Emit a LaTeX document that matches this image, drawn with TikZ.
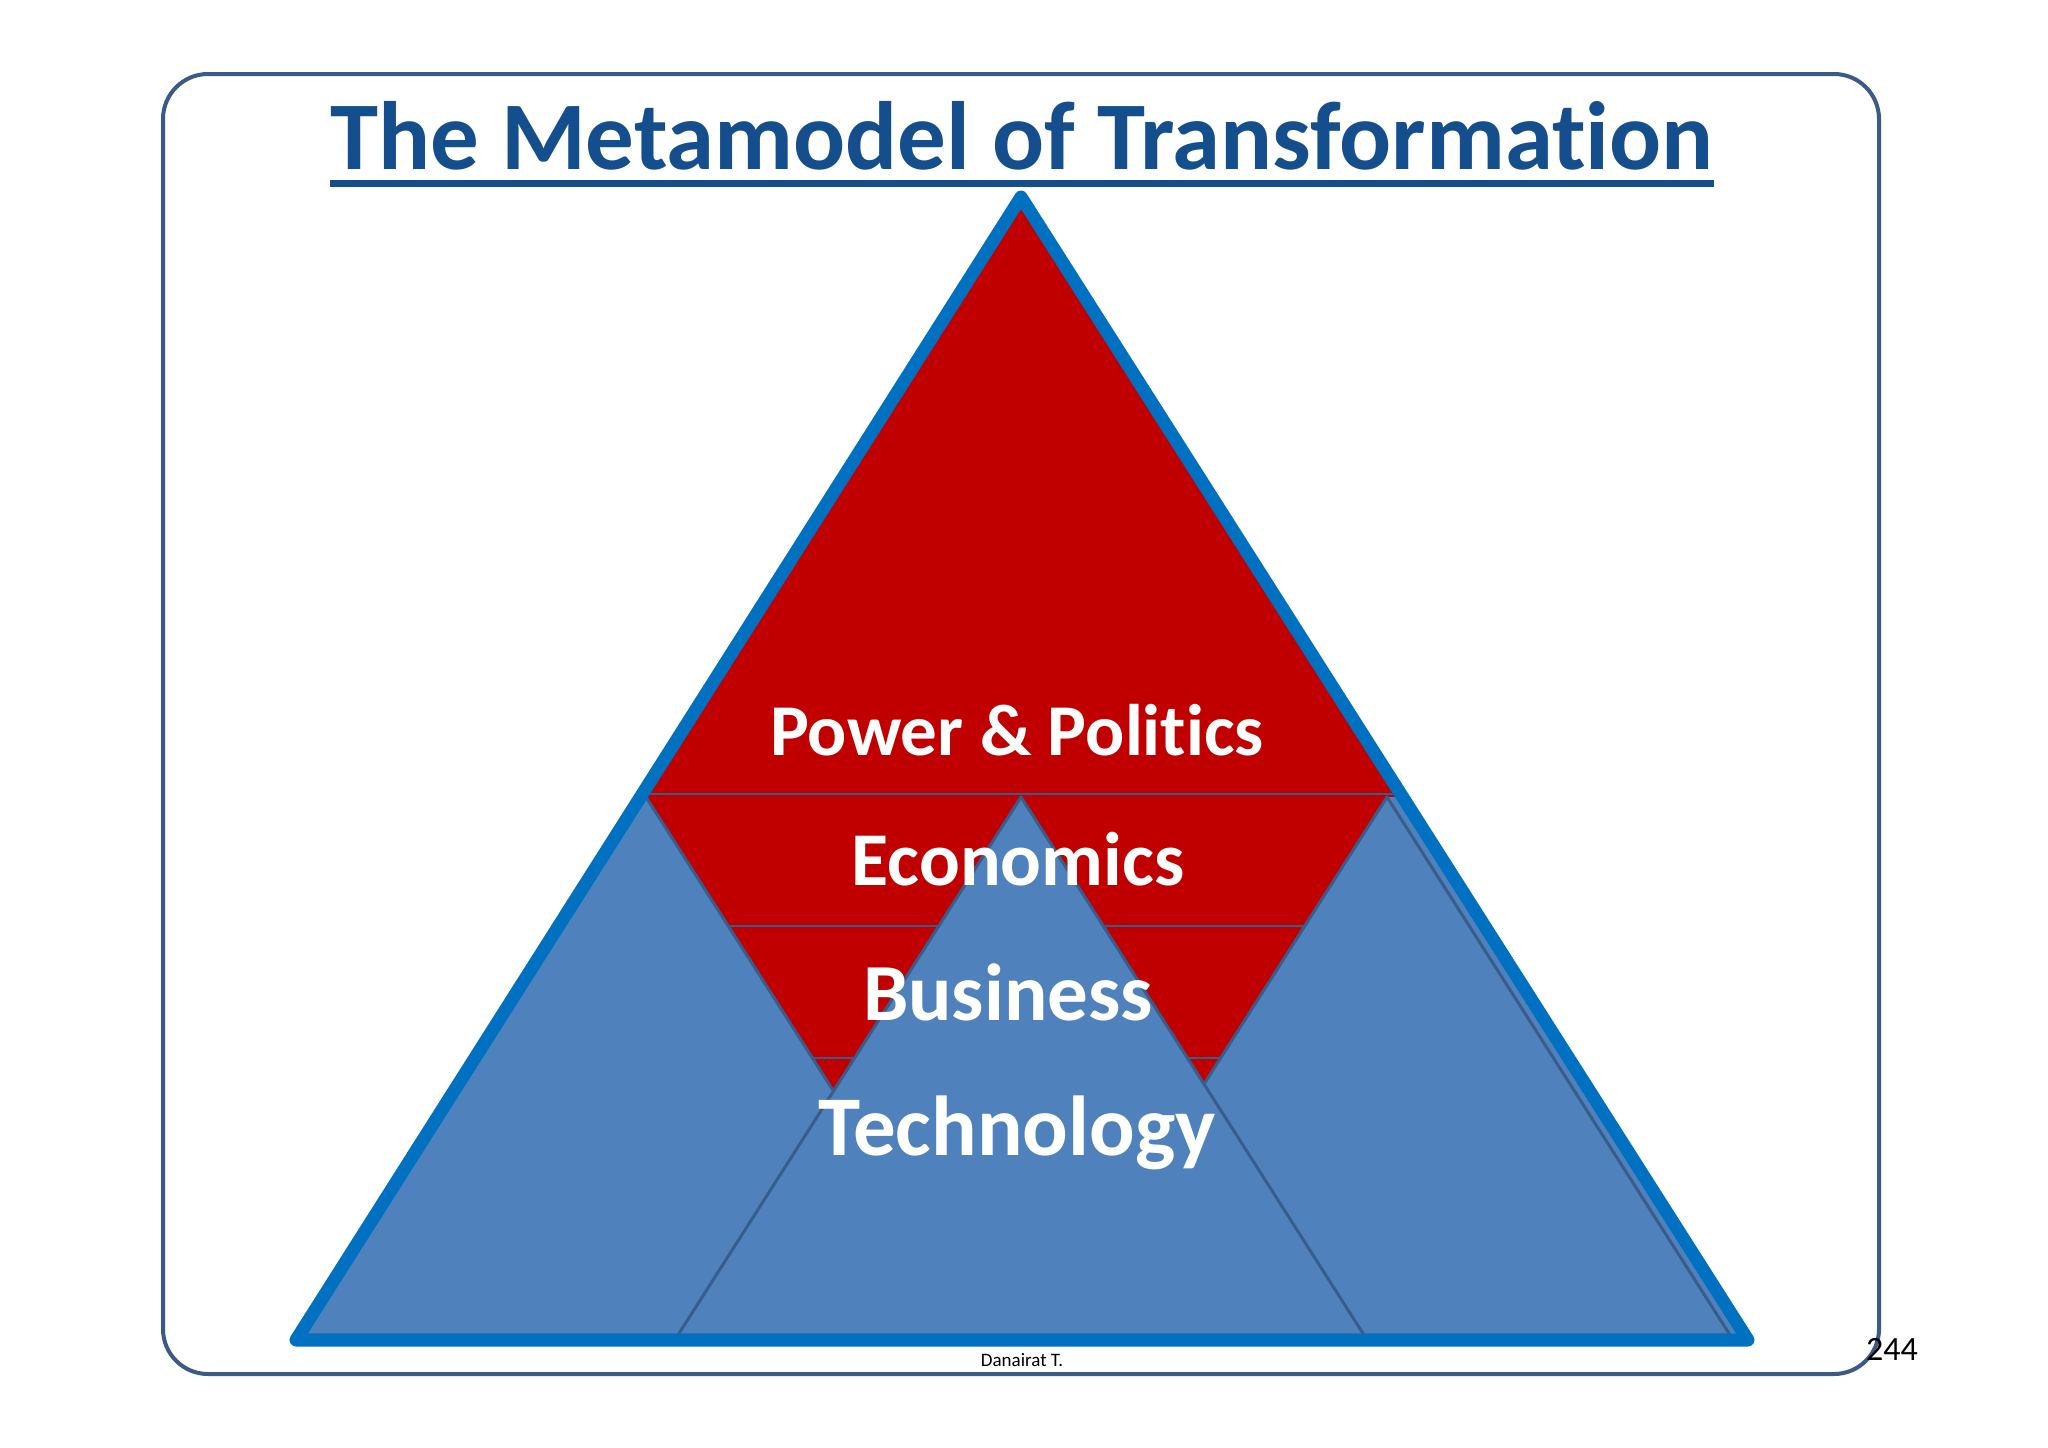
\documentclass[tikz,border=0pt]{standalone}
\usepackage{fontspec}
\setmainfont{Carlito}[Ligatures={NoCommon}]
\definecolor{titleblue}{RGB}{20,78,140}
\definecolor{outblue}{RGB}{0,112,192}
\definecolor{redfill}{RGB}{192,0,0}
\definecolor{trifill}{RGB}{79,129,189}
\definecolor{triedge}{RGB}{56,93,138}
\definecolor{framecol}{RGB}{60,90,135}
\begin{document}
\begin{tikzpicture}[x=1pt,y=-1pt,
  framebox/.style={draw=framecol,line width=4pt,rounded corners=45pt},
  bluetri/.style={fill=trifill,draw=triedge,line width=3pt,line join=round},
  segline/.style={draw=triedge,line width=2pt},
  outer/.style={draw=outblue,line width=13pt,line join=round},
  lbl/.style={text=white,font=\bfseries,anchor=base,inner sep=0pt}]
\useasboundingbox[fill=white] (0,0) rectangle (2048,1448);
% frame
\draw[framebox] (163,74) rectangle (1879,1374);
% title
\node[anchor=base,inner sep=0pt,text=titleblue,font=\bfseries\fontsize{97}{100}\selectfont] (title) at (1022,169) {The Metamodel of Transformation};
\draw[titleblue,line width=7pt] ([yshift=-14.5pt]title.base west) -- ([yshift=-14.5pt]title.base east);
% pyramid corners
\coordinate (A) at (1021,197);
\coordinate (L) at (296,1340);
\coordinate (R) at (1748,1340);
% base fill
\fill[trifill] (A) -- (L) -- (R) -- cycle;
% red levels
\begin{scope}
\clip (A) -- (L) -- (R) -- cycle;
\clip (1021,150) -- (300,794) -- (646,797) -- (850,1117) -- (1183,1117) -- (1387,797) -- (1742,794) -- cycle;
\fill[redfill] (0,0) rectangle (2048,1448);
\coordinate (s1a) at (200,794); \coordinate (s1b) at (1850,794);
\coordinate (s2a) at (200,926); \coordinate (s2b) at (1850,926);
\coordinate (s3a) at (200,1058); \coordinate (s3b) at (1850,1058);
\draw[segline] (s1a) -- (s1b);
\draw[segline] (s2a) -- (s2b);
\draw[segline] (s3a) -- (s3b);
\end{scope}
% blue triangles
\draw[bluetri] (646,797) -- (303,1335) -- (989,1335) -- cycle;
\draw[bluetri] (1387,797) -- (1044,1335) -- (1730,1335) -- cycle;
\draw[bluetri] (1021,797) -- (678,1335) -- (1364,1335) -- cycle;
% outline
\draw[outer] (A) -- (L) -- (R) -- cycle;
% labels
\node[lbl,font=\bfseries\fontsize{73}{80}\selectfont] (pp) at (1017,755) {Power \& Politics};
\node[lbl,font=\bfseries\fontsize{76}{80}\selectfont] (eco) at (1018,885) {Economics};
\node[lbl,font=\bfseries\fontsize{81}{85}\selectfont] (bus) at (1008,1020) {Business};
\node[lbl,font=\bfseries\fontsize{85}{90}\selectfont] (tech) at (1017,1155) {Technology};
% footer
\node[anchor=base,inner sep=0pt,font=\fontsize{19}{22}\selectfont] (auth) at (1022,1366) {Danairat T.};
\node[anchor=base west,inner sep=0pt,font=\fontsize{34}{38}\selectfont] (pg) at (1866,1360) {244};
\end{tikzpicture}
\end{document}
